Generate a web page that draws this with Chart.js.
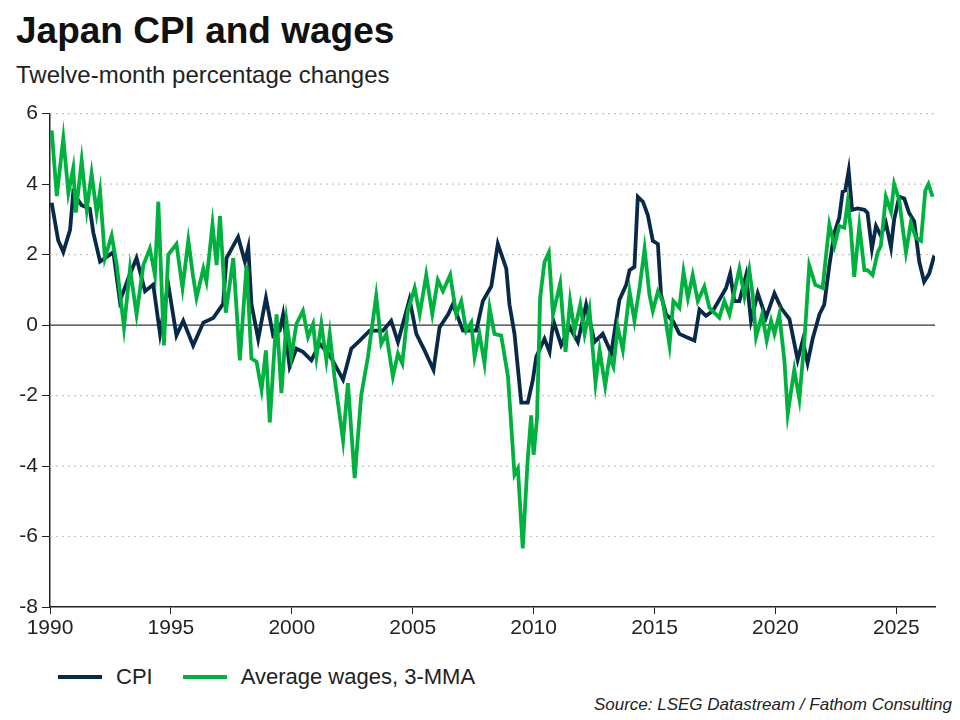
<!DOCTYPE html>
<html>
<head>
<meta charset="utf-8">
<script src="https://cdn.jsdelivr.net/npm/chart.js@4"></script>
<style>
  body { margin: 0; width: 960px; height: 720px; background: #fff; font-family: Arial, "Liberation Sans", sans-serif; position: relative; overflow: hidden; }
  #title { position: absolute; left: 16px; top: 10px; font-size: 37px; font-weight: bold; color: #111; }
  #sub { position: absolute; left: 16px; top: 61px; font-size: 24px; color: #222; }
  #wrap { position: absolute; left: 0; top: 97px; width: 960px; height: 545px; }
  #legend { position: absolute; left: 58px; top: 664px; font-size: 22px; color: #222; display: flex; align-items: center; }
  .sw { display: inline-block; width: 44px; height: 4px; margin-right: 14px; }
  #source { position: absolute; right: 8px; top: 695px; font-size: 17px; font-style: italic; color: #222; }
</style>
</head>
<body>
<div id="title">Japan CPI and wages</div>
<div id="sub">Twelve-month percentage changes</div>
<div id="wrap"><canvas id="c"></canvas></div>
<div id="legend">
  <span class="sw" style="background:#082a48"></span><span style="margin-right:30px">CPI</span>
  <span class="sw" style="background:#00b140"></span><span>Average wages, 3-MMA</span>
</div>
<div id="source">Source: LSEG Datastream / Fathom Consulting</div>
<script>
// CPI, 12m % change (decimal year, value)
const cpiYears = [1990.07,1990.34,1990.55,1990.83,1990.96,1991.31,1991.65,1991.79,1992.07,1992.62,1992.89,1993.24,1993.58,1993.93,1994.27,1994.55,1994.89,1995.23,1995.51,1995.92,1996.34,1996.75,1997.16,1997.3,1997.78,1998.06,1998.2,1998.33,1998.61,1998.93,1999.23,
  1999.5,1999.64,1999.91,2000.19,2000.46,2000.81,2001.15,2001.57,2002.12,2002.46,2002.81,2003.22,2003.77,2004.11,2004.39,2004.87,2005.15,2005.49,2005.86,2006.11,2006.46,2006.66,2007.08,2007.63,2007.9,2008.25,2008.52,2008.87,2009.0,2009.21,2009.49,
  2009.76,2009.97,2010.11,2010.45,2010.66,2010.82,2011.14,2011.49,2011.83,2012.17,2012.52,2012.86,2013.21,2013.55,2013.83,2013.97,2014.17,2014.31,2014.52,2014.72,2014.93,2015.14,2015.27,2015.48,2015.76,2016.03,2016.31,2016.65,2016.86,2017.13,2017.41,2017.68,2017.96,2018.13,2018.3,2018.51,2018.79,
  2018.99,2019.27,2019.61,2019.96,2020.23,2020.58,2020.92,2021.13,2021.33,2021.54,2021.82,2022.02,2022.23,2022.44,2022.64,2022.78,2022.89,2023.03,2023.17,2023.4,2023.68,2023.81,2023.99,2024.16,2024.36,2024.57,2024.78,2024.91,2025.12,2025.33,2025.53,2025.74,2025.95,2026.15,2026.36,2026.57];
const cpiValues = [3.47,2.4,2.07,2.7,3.75,3.4,3.3,2.63,1.8,2.07,0.68,1.33,1.9,0.96,1.15,-0.25,1.15,-0.3,0.12,-0.58,0.07,0.2,0.6,1.9,2.5,1.8,2.2,0.6,-0.4,0.77,-0.3,
  -0.16,0.3,-1.18,-0.67,-0.76,-1.0,-0.53,-0.86,-1.55,-0.67,-0.44,-0.16,-0.16,0.12,-0.48,0.73,-0.25,-0.72,-1.27,-0.07,0.3,0.59,-0.16,-0.16,0.68,1.1,2.3,1.6,0.59,-0.25,-2.2,
  -2.2,-1.55,-0.9,-0.39,-0.76,0.12,-0.57,-0.06,-0.48,0.58,-0.48,-0.25,-0.8,0.72,1.14,1.56,1.65,3.64,3.5,3.13,2.39,2.3,0.86,0.3,0.12,-0.25,-0.34,-0.44,0.44,0.26,0.4,0.72,1.05,1.46,0.68,0.68,1.42,
  0.12,0.9,0.21,0.9,0.49,0.17,-0.99,-0.44,-1.08,-0.39,0.3,0.58,1.69,2.62,3.04,3.78,3.82,4.38,3.27,3.31,3.27,3.18,2.16,2.81,2.53,2.9,2.2,2.99,3.64,3.59,3.18,2.94,1.79,1.23,1.46,1.97];

// Average wages, 3-month moving average, 12m % change
const wageYears = [1990.07,1990.28,1990.55,1990.76,1990.96,1991.07,1991.31,1991.52,1991.72,1991.93,1992.07,1992.27,1992.55,1992.76,1993.06,1993.31,1993.58,1993.86,1994.13,1994.34,1994.48,1994.71,1994.89,1995.23,1995.48,1995.72,1995.92,1996.06,1996.34,1996.47,1996.72,1996.89,1997.03,1997.27,1997.58,1997.85,1998.13,1998.33,1998.54,1998.75,1998.93,1999.09,1999.37,
  1999.57,1999.78,1999.98,2000.19,2000.46,2000.67,2000.88,2001.02,2001.22,2001.43,2001.57,2001.77,2002.12,2002.32,2002.6,2002.87,2003.15,2003.49,2003.7,2003.91,2004.18,2004.39,2004.57,2004.8,2005.08,2005.29,2005.56,2005.81,2006.04,2006.25,2006.55,2006.8,2007.01,2007.21,2007.42,2007.56,2007.76,2007.97,2008.18,2008.38,2008.66,2008.94,2009.21,2009.35,2009.55,
  2009.76,2009.9,2010.0,2010.14,2010.27,2010.45,2010.63,2010.8,2011.1,2011.32,2011.51,2011.69,2011.93,2012.11,2012.31,2012.56,2012.73,2012.96,2013.14,2013.3,2013.48,2013.69,2013.97,2014.17,2014.38,2014.59,2014.79,2014.93,2015.14,2015.34,2015.62,2015.78,2016.03,2016.2,2016.38,2016.58,2016.79,2017.06,2017.27,2017.68,2017.89,2018.1,2018.51,2018.72,2018.92,2019.06,
  2019.2,2019.45,2019.64,2019.82,2019.96,2020.16,2020.37,2020.51,2020.78,2020.99,2021.2,2021.4,2021.65,2021.95,2022.23,2022.44,2022.64,2022.85,2022.99,2023.12,2023.26,2023.47,2023.68,2023.81,2024.02,2024.23,2024.36,2024.57,2024.78,2024.91,2025.12,2025.29,2025.4,2025.6,2025.81,2026.02,2026.2,2026.33,2026.5];
const wageValues = [5.52,3.66,5.3,3.75,4.45,3.19,4.67,3.28,4.3,3.19,3.8,1.9,2.54,1.7,-0.07,1.6,0.3,1.7,2.17,1.42,3.5,-0.58,2.0,2.3,1.05,2.4,1.37,0.77,1.6,1.24,2.86,1.7,3.09,0.35,1.9,-1.0,1.7,-0.95,-1.04,-1.83,-0.72,-2.76,0.3,
  -1.93,0.12,-0.9,0.03,0.4,-0.34,0.03,-0.9,0.03,-1.0,-0.25,-1.5,-3.27,-1.65,-4.34,-2.0,-0.9,0.82,-0.53,-0.25,-1.46,-0.81,-1.09,0.4,1.05,0.31,1.42,0.31,1.28,0.96,1.42,0.31,0.68,-0.16,0.07,-0.9,-0.25,-1.09,0.49,-0.25,-0.3,-1.46,-4.25,-4.07,-6.34,
  -3.77,-2.56,-3.68,-2.66,0.77,1.79,2.06,0.3,1.18,-0.76,0.68,-0.16,0.58,-0.25,0.44,-1.64,-0.71,-1.73,-0.9,-1.18,-0.06,-0.71,0.95,0.12,1.05,2.16,0.86,0.4,0.95,0.68,-0.57,0.68,0.49,1.51,0.77,1.42,0.68,1.09,0.49,0.21,0.68,0.3,1.6,0.81,1.56,0.86,
  -0.34,0.3,-0.44,0.12,-0.25,0.3,-0.99,-2.52,-1.27,-2.1,-0.44,1.69,1.14,1.05,2.85,2.25,2.81,2.76,3.5,2.71,1.37,2.81,1.56,1.56,1.42,2.06,2.25,3.64,3.22,4.0,3.55,2.62,2.06,2.9,2.48,2.39,3.82,4.0,3.64];

const yTicks = [-8, -6, -4, -2, 0, 2, 4, 6];
const xTicks = [1990, 1995, 2000, 2005, 2010, 2015, 2020, 2025];

const toPoints = (xs, ys) => xs.map((x, i) => ({ x: x, y: ys[i] }));

// dotted horizontal grid plus solid zero line
const gridLines = {
  id: 'gridLines',
  beforeDatasetsDraw(chart) {
    const { ctx, chartArea, scales } = chart;
    ctx.save();
    yTicks.forEach(v => {
      if (v === -8) return;
      const y = scales.y.getPixelForValue(v);
      ctx.beginPath();
      if (v === 0) {
        ctx.setLineDash([]);
        ctx.strokeStyle = '#333';
        ctx.lineWidth = 1.2;
      } else {
        ctx.setLineDash([2, 4]);
        ctx.strokeStyle = '#c4c4c4';
        ctx.lineWidth = 1.2;
      }
      ctx.moveTo(chartArea.left, y);
      ctx.lineTo(chartArea.right, y);
      ctx.stroke();
    });
    ctx.restore();
  }
};

const tickFont = { family: 'Arial, Liberation Sans, sans-serif', size: 21 };

new Chart(document.getElementById('c'), {
  type: 'scatter',
  data: {
    datasets: [
      { label: 'Average wages, 3-MMA', data: toPoints(wageYears, wageValues), showLine: true,
        borderColor: '#00b140', borderWidth: 3.8, pointRadius: 0, tension: 0 },
      { label: 'CPI', data: toPoints(cpiYears, cpiValues), showLine: true,
        borderColor: '#082a48', borderWidth: 3.8, pointRadius: 0, tension: 0 }
    ]
  },
  options: {
    responsive: true,
    maintainAspectRatio: false,
    animation: false,
    layout: { padding: { top: 10, right: 25, left: 0, bottom: 0 } },
    plugins: { legend: { display: false }, tooltip: { enabled: false } },
    scales: {
      x: {
        type: 'linear', min: 1990, max: 2026.6,
        afterBuildTicks: s => { s.ticks = xTicks.map(v => ({ value: v })); },
        afterFit: s => { s.height = 35; },
        grid: { drawOnChartArea: false, drawTicks: true, tickLength: 7, tickColor: '#222' },
        border: { color: '#222', width: 1.5 },
        ticks: { color: '#222', font: tickFont, maxRotation: 0, padding: 2, callback: v => String(v) }
      },
      y: {
        min: -8, max: 6,
        afterBuildTicks: s => { s.ticks = yTicks.map(v => ({ value: v })); },
        afterFit: s => { s.width = 50; },
        grid: { drawOnChartArea: false, drawTicks: true, tickLength: 8, tickColor: '#222' },
        border: { color: '#222', width: 1.5 },
        ticks: { color: '#222', font: tickFont, padding: 4 }
      }
    }
  },
  plugins: [gridLines]
});
</script>
</body>
</html>
